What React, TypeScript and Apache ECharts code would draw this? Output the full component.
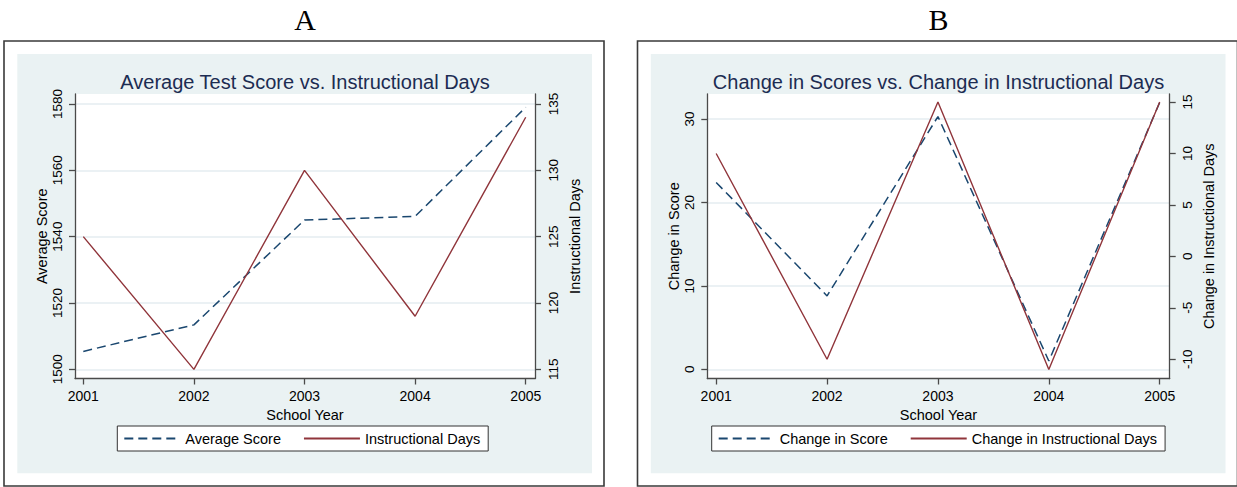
import React, { useEffect, useRef } from 'react';
import * as echarts from 'echarts';

// ---- data ----
const years = [2001, 2002, 2003, 2004, 2005];
const averageScore = [1505.4, 1513.4, 1545.0, 1546.1, 1579.0];
const instructionalDays = [125, 115, 130, 119, 134];
const changeInScore = [22.4, 8.8, 30.3, 1.0, 32.0];
const changeInDays = [10, -10, 15, -11, 15];

const scoreTicks = [1500, 1520, 1540, 1560, 1580];
const daysTicks = [115, 120, 125, 130, 135];
const changeScoreTicks = [0, 10, 20, 30];
const changeDaysTicks = [-10, -5, 0, 5, 10, 15];

const panelLabels = ['A', 'B'];
const chartTitles = [
  'Average Test Score vs. Instructional Days',
  'Change in Scores vs. Change in Instructional Days',
];
const seriesNames = [
  ['Average Score', 'Instructional Days'],
  ['Change in Score', 'Change in Instructional Days'],
];
const yNames = [
  ['Average Score', 'Instructional Days'],
  ['Change in Score', 'Change in Instructional Days'],
];
const xName = 'School Year';

// ---- style ----
const FONT = 'Liberation Sans';
const AXIS_COLOR = '#4a4a4a';
const NAVY = '#1a476f';
const MAROON = '#90353b';
const BG = '#eaf2f3';
const GRIDLINE = '#e4edf0';
const TITLE_COLOR = '#1c2c52';

const pairs = (ys: number[]) => years.map((x, i) => [x, ys[i]]);

function makeX(gridIndex: number, min: number, max: number) {
  return {
    type: 'value',
    gridIndex,
    min,
    max,
    name: xName,
    nameLocation: 'middle',
    nameGap: 23,
    nameTextStyle: { fontFamily: FONT, fontSize: 14.5, color: '#000' },
    axisLine: { show: true, onZero: false, lineStyle: { color: AXIS_COLOR, width: 1.3 } },
    axisTick: { show: true, length: 6, customValues: years, lineStyle: { color: AXIS_COLOR, width: 1.3 } },
    axisLabel: {
      customValues: years,
      formatter: (v: number) => String(v),
      margin: 10,
      fontFamily: FONT,
      fontSize: 14,
      color: '#000',
    },
    splitLine: { show: false },
  };
}

function makeY(
  gridIndex: number,
  position: 'left' | 'right',
  min: number,
  max: number,
  ticks: number[],
  name: string,
  nameGap: number,
  grid: boolean
) {
  return {
    type: 'value',
    gridIndex,
    position,
    min,
    max,
    name,
    nameLocation: 'middle',
    nameRotate: 90,
    nameGap,
    nameTextStyle: { fontFamily: FONT, fontSize: 14.5, color: '#000' },
    axisLine: { show: true, onZero: false, lineStyle: { color: AXIS_COLOR, width: 1.3 } },
    axisTick: { show: true, length: 6, customValues: ticks, lineStyle: { color: AXIS_COLOR, width: 1.3 } },
    axisLabel: {
      customValues: ticks,
      formatter: (v: number) => String(v),
      rotate: 90,
      margin: 11,
      fontFamily: FONT,
      fontSize: 13.5,
      color: '#000',
    },
    splitLine: { show: grid, lineStyle: { color: GRIDLINE, width: 1.6 } },
  };
}

function legend(left: number, names: string[]) {
  return {
    left,
    top: 426,
    orient: 'horizontal',
    itemWidth: 56,
    itemHeight: 12,
    itemGap: 22,
    padding: [5, 8, 5, 6],
    borderColor: '#333',
    borderWidth: 1,
    backgroundColor: '#fff',
    selectedMode: false,
    itemStyle: { opacity: 0 },
    textStyle: { fontFamily: FONT, fontSize: 14.5, color: '#000' },
    data: names,
  };
}

export default function App() {
  const ref = useRef<HTMLDivElement>(null);
  useEffect(() => {
    if (!ref.current) return;
    const chart = echarts.init(ref.current, null, { renderer: 'svg' });
    const panelX = [0, 633.5];
    const graphic: any[] = [];
    panelX.forEach((dx, i) => {
      graphic.push({
        type: 'rect',
        z: -10,
        shape: { x: 4 + dx, y: 41, width: 600, height: 445 },
        style: { fill: '#fff', stroke: '#3a3a3a', lineWidth: 1.6 },
        silent: true,
      });
      graphic.push({
        type: 'rect',
        z: -9,
        shape: { x: 17.3 + dx, y: 54, width: 574.7, height: 419.3 },
        style: { fill: BG },
        silent: true,
      });
      graphic.push({
        type: 'text',
        x: 305 + dx,
        y: 19,
        style: {
          text: panelLabels[i],
          fill: '#000',
          fontFamily: 'Liberation Serif',
          fontSize: 30,
          align: 'center',
          verticalAlign: 'middle',
        },
        silent: true,
      });
      graphic.push({
        type: 'text',
        x: 305 + dx,
        y: 82,
        style: {
          text: chartTitles[i],
          fill: TITLE_COLOR,
          fontFamily: FONT,
          fontSize: 20,
          align: 'center',
          verticalAlign: 'middle',
        },
        silent: true,
      });
    });

    const option: any = {
      animation: false,
      graphic,
      grid: [
        { left: 75, top: 94, width: 460, height: 284.5, show: true, backgroundColor: '#fff', borderWidth: 0 },
        { left: 707.3, top: 94, width: 462.4, height: 284.5, show: true, backgroundColor: '#fff', borderWidth: 0 },
      ],
      xAxis: [makeX(0, 2000.925, 2005.084), makeX(1, 2000.92, 2005.09)],
      yAxis: [
        makeY(0, 'left', 1497.23, 1583.0, scoreTicks, yNames[0][0], 25, true),
        makeY(0, 'right', 114.31, 135.75, daysTicks, yNames[0][1], 32, false),
        makeY(1, 'left', -1.1, 33.0, changeScoreTicks, yNames[1][0], 25, true),
        makeY(1, 'right', -11.87, 15.78, changeDaysTicks, yNames[1][1], 32, false),
      ],
      legend: [legend(117.3, seriesNames[0]), legend(711.7, seriesNames[1])],
      series: [
        {
          name: seriesNames[0][0], type: 'line', xAxisIndex: 0, yAxisIndex: 0,
          data: pairs(averageScore), symbol: 'none', color: NAVY,
          lineStyle: { color: NAVY, width: 1.5, type: [9, 5] },
        },
        {
          name: seriesNames[0][1], type: 'line', xAxisIndex: 0, yAxisIndex: 1,
          data: pairs(instructionalDays), symbol: 'none', color: MAROON,
          lineStyle: { color: MAROON, width: 1.4 },
        },
        {
          name: seriesNames[1][0], type: 'line', xAxisIndex: 1, yAxisIndex: 2,
          data: pairs(changeInScore), symbol: 'none', color: NAVY,
          lineStyle: { color: NAVY, width: 1.5, type: [9, 5] },
        },
        {
          name: seriesNames[1][1], type: 'line', xAxisIndex: 1, yAxisIndex: 3,
          data: pairs(changeInDays), symbol: 'none', color: MAROON,
          lineStyle: { color: MAROON, width: 1.4 },
        },
      ],
    };
    chart.setOption(option);
    return () => chart.dispose();
  }, []);
  return (
    <div
      ref={ref}
      style={{ position: 'absolute', left: 0, top: 0, width: 1237, height: 487, background: '#fff' }}
    />
  );
}
